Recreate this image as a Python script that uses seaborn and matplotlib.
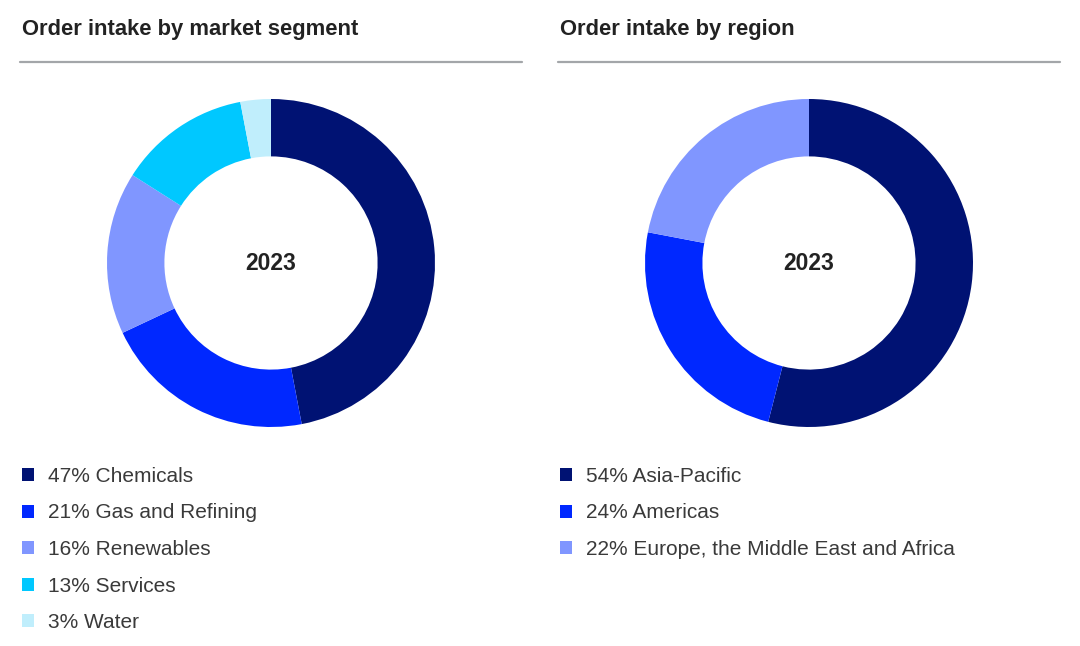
import matplotlib
matplotlib.use("Agg")
import matplotlib.pyplot as plt
import seaborn as sns

# data
seg_labels = ["Chemicals", "Gas and Refining", "Renewables", "Services", "Water"]
seg_values = [47, 21, 16, 13, 3]
seg_colors = ["#001273", "#0028ff", "#8096ff", "#00c8ff", "#c0eefc"]

reg_labels = ["Asia-Pacific", "Americas", "Europe, the Middle East and Africa"]
reg_values = [54, 24, 22]
reg_colors = ["#001273", "#0028ff", "#8096ff"]

year = "2023"

sns.set_theme(style="white")
plt.rcParams['font.family'] = ['Liberation Sans', 'DejaVu Sans']

W, H = 1080, 646
fig = plt.figure(figsize=(W / 100, H / 100), dpi=100)
fig.patch.set_facecolor("white")

def donut(cx, cy, r, values, colors, labels, title, x0, x1):
    ax = fig.add_axes([(cx - r) / W, 1 - (cy + r) / H, 2 * r / W, 2 * r / H])
    wedges, _ = ax.pie(values, colors=colors, startangle=90, counterclock=False,
                       radius=1, wedgeprops=dict(width=0.35, linewidth=0))
    ax.set_aspect("equal")
    ax.set_xlim(-1, 1)
    ax.set_ylim(-1, 1)
    ax.text(0, 0, year, ha="center", va="center", fontsize=16.5,
            fontweight="bold", color="#222222")
    # title + rule
    fig.text((x0 + 2) / W, 1 - 29 / H, title, ha="left", va="center",
             fontsize=15.8, fontweight="bold", color="#222222")
    fig.add_artist(plt.Line2D([x0 / W, x1 / W], [1 - 62 / H, 1 - 62 / H],
                              color="#a3a6a9", linewidth=1.6))
    leg = fig.legend(wedges, [f"{v}% {l}" for v, l in zip(values, labels)],
                     loc="upper left", bbox_to_anchor=((x0 + 2) / W, 1 - 467 / H),
                     frameon=False, fontsize=15, handlelength=0.58,
                     handleheight=0.58, handletextpad=0.67, labelspacing=0.84,
                     borderpad=0, borderaxespad=0)
    for t in leg.get_texts():
        t.set_color("#3a3a3a")
    return ax

donut(271, 263, 164, seg_values, seg_colors, seg_labels,
      "Order intake by market segment", 20, 522)
donut(809, 263, 164, reg_values, reg_colors, reg_labels,
      "Order intake by region", 558, 1060)

fig.savefig("out.png", dpi=100, facecolor="white")
